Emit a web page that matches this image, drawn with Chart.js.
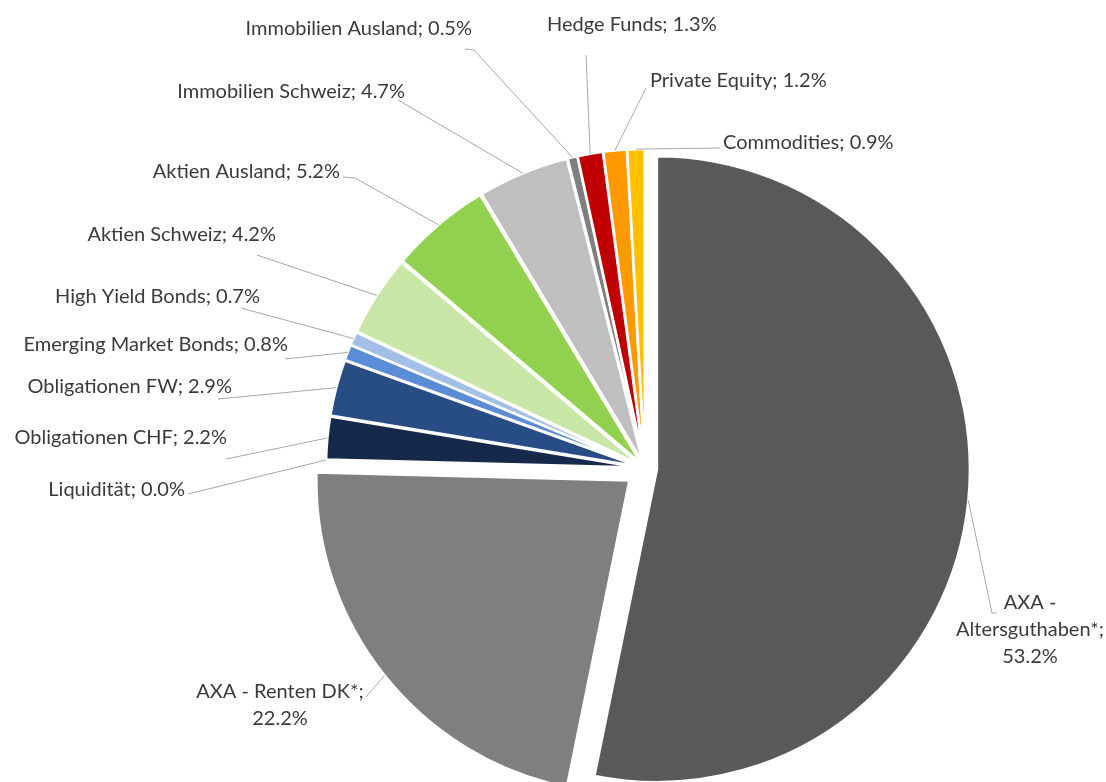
<!DOCTYPE html>
<html lang="de">
<head>
    <meta charset="UTF-8">
    <title>Anlagestruktur</title>
    <style>
* { margin: 0; padding: 0; }
body { background: #fff; width: 1106px; height: 782px; overflow: hidden; }
canvas { display: block; }
    </style>
</head>
<body>
    <canvas id="pie" width="1106" height="782"></canvas>

    <script src="https://cdn.jsdelivr.net/npm/chart.js@4/dist/chart.umd.min.js"></script>
    <script>
// Data
const categories = [
    ['AXA -', 'Altersguthaben*'],
    'AXA - Renten DK*',
    'Liquidität',
    'Obligationen CHF',
    'Obligationen FW',
    'Emerging Market Bonds',
    'High Yield Bonds',
    'Aktien Schweiz',
    'Aktien Ausland',
    'Immobilien Schweiz',
    'Immobilien Ausland',
    'Hedge Funds',
    'Private Equity',
    'Commodities'
];
const shares = [53.2, 22.2, 0.0, 2.2, 2.9, 0.8, 0.7, 4.2, 5.2, 4.7, 0.5, 1.3, 1.2, 0.9];

// Styles
const colors = ['#595959', '#7f7f7f', '#0d0d0d', '#17294a', '#284d84', '#5b8dd6', '#a2bfe8',
                '#c8e6a6', '#92d050', '#bfbfbf', '#7f7f7f', '#c00000', '#ff9900', '#ffc000'];
// how far each slice is pulled out of the centre (px)
const explode = [12, 20, 6, 6, 6, 6, 6, 6, 6, 6, 6, 6, 6, 6];

// label placement: text anchor, alignment, and leader line start points
const labelPos = [
    { x: 1030, y: 603, align: 'center', lead: [[997, 613], [992, 613]] },
    { x: 280, y: 692, align: 'center', ownLine: true, lead: [[366, 697]] },
    { x: 185, y: 490, align: 'right', lead: [[188, 494]] },
    { x: 227, y: 438, align: 'right', lead: [[226, 459]] },
    { x: 232, y: 387, align: 'right', lead: [[218, 399]] },
    { x: 288, y: 345, align: 'right', lead: [[285, 359]] },
    { x: 260, y: 297, align: 'right', lead: [[241, 308]] },
    { x: 276, y: 235, align: 'right', lead: [[257, 255]] },
    { x: 340, y: 172, align: 'right', lead: [[343, 177], [355, 178]] },
    { x: 405, y: 92, align: 'right', lead: [[398, 100]] },
    { x: 472, y: 29, align: 'right', lead: [[465, 49], [474, 50]] },
    { x: 547, y: 25, align: 'left', lead: [[586, 55]] },
    { x: 650, y: 81, align: 'left', lead: [[646, 88]] },
    { x: 723, y: 143, align: 'left', lead: [[720, 148]] }
];

function labelLines(i) {
    const cat = categories[i];
    const val = shares[i].toFixed(1) + '%';
    if (Array.isArray(cat)) {
        const lines = cat.slice();
        lines[lines.length - 1] += ';';
        lines.push(val);
        return lines;
    }
    if (labelPos[i].ownLine) return [cat + ';', val];
    return [cat + '; ' + val];
}

function midAngle(arc) {
    const p = arc.getProps(['startAngle', 'endAngle'], true);
    return (p.startAngle + p.endAngle) / 2;
}

// draw each slice shifted outwards along its middle angle
const explodedSlices = {
    id: 'explodedSlices',
    beforeDatasetDraw(chart, args) {
        const ctx = chart.ctx;
        args.meta.data.forEach((arc, i) => {
            const mid = midAngle(arc);
            ctx.save();
            ctx.translate(Math.cos(mid) * explode[i], Math.sin(mid) * explode[i]);
            arc.draw(ctx);
            ctx.restore();
        });
        return false;
    }
};

const sliceLabels = {
    id: 'sliceLabels',
    afterDraw(chart) {
        const ctx = chart.ctx;
        const arcs = chart.getDatasetMeta(0).data;
        ctx.save();
        ctx.strokeStyle = '#a6a6a6';
        ctx.lineWidth = 1;
        arcs.forEach((arc, i) => {
            const p = arc.getProps(['x', 'y', 'outerRadius'], true);
            const mid = midAngle(arc);
            const r = p.outerRadius + explode[i];
            const ax = p.x + Math.cos(mid) * r;
            const ay = p.y + Math.sin(mid) * r;
            const lp = labelPos[i];
            ctx.beginPath();
            ctx.moveTo(lp.lead[0][0], lp.lead[0][1]);
            lp.lead.slice(1).forEach(pt => ctx.lineTo(pt[0], pt[1]));
            ctx.lineTo(ax, ay);
            ctx.stroke();
        });
        ctx.fillStyle = '#3a3a3a';
        ctx.font = '20px Lato';
        ctx.textBaseline = 'middle';
        labelPos.forEach((lp, i) => {
            ctx.textAlign = lp.align;
            labelLines(i).forEach((line, k) => {
                ctx.fillText(line, lp.x, lp.y + k * 27);
            });
        });
        ctx.restore();
    }
};

new Chart(document.getElementById('pie').getContext('2d'), {
    type: 'pie',
    data: {
        labels: categories,
        datasets: [{
            data: shares,
            backgroundColor: colors,
            borderColor: '#ffffff',
            borderWidth: 2.5,
            hoverOffset: 0,
            radius: 313
        }]
    },
    options: {
        responsive: false,
        animation: false,
        events: [],
        layout: { padding: { left: 184, top: 154, right: 0, bottom: 0 } },
        plugins: {
            legend: { display: false },
            tooltip: { enabled: false }
        }
    },
    plugins: [explodedSlices, sliceLabels]
});
    </script>
</body>
</html>
